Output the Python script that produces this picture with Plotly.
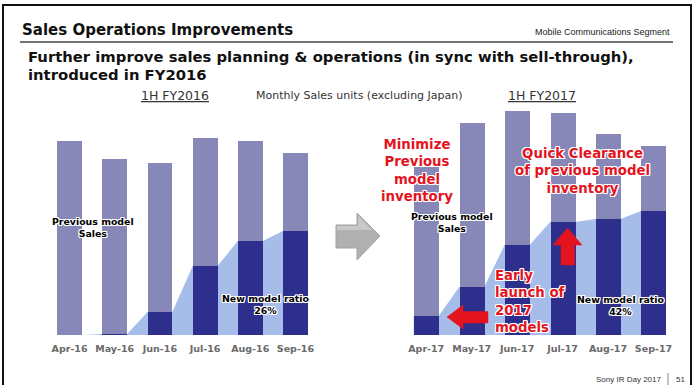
import plotly.graph_objects as go

# ---------------- data ----------------
months_2016 = ["Apr-16", "May-16", "Jun-16", "Jul-16", "Aug-16", "Sep-16"]
months_2017 = ["Apr-17", "May-17", "Jun-17", "Jul-17", "Aug-17", "Sep-17"]
total_2016 = [194, 176, 172, 197, 194, 182]
new_2016 = [0, 1, 23, 69, 94, 104]
total_2017 = [168, 212, 224, 222, 201, 189]
new_2017 = [19, 48, 90, 113, 116, 124]
prev_2016 = [t - n for t, n in zip(total_2016, new_2016)]
prev_2017 = [t - n for t, n in zip(total_2017, new_2017)]

W, H = 696, 385
BAR_W = 0.55
C_PREV = "#8787b8"
C_NEW = "#2e2e8c"
C_AREA = "#a6bdea"
C_RED = "#e3141e"
FONT = "DejaVu Sans"
HALO = "1px 1px 0 #fff, -1px -1px 0 #fff, 1px -1px 0 #fff, -1px 1px 0 #fff, 0 1px 0 #fff, 0 -1px 0 #fff, 1px 0 0 #fff, -1px 0 0 #fff"


def px(x):
    return x / W


def py(y):
    return 1 - y / H


fig = go.Figure()


def add_chart(months, prev, new, xa, ya):
    idx = list(range(len(months)))
    ax, ay = [], []
    for i, v in zip(idx, new):
        ax += [i - BAR_W / 2, i + BAR_W / 2]
        ay += [v, v]
    fig.add_trace(go.Scatter(x=ax, y=ay, mode="lines", line=dict(width=0),
                             fill="tozeroy", fillcolor=C_AREA, xaxis=xa, yaxis=ya,
                             zorder=-1, hoverinfo="skip", showlegend=False))
    fig.add_trace(go.Bar(x=idx, y=new, width=BAR_W, marker=dict(color=C_NEW, line=dict(width=0)),
                         xaxis=xa, yaxis=ya, showlegend=False, zorder=1))
    fig.add_trace(go.Bar(x=idx, y=prev, width=BAR_W, marker=dict(color=C_PREV, line=dict(width=0)),
                         xaxis=xa, yaxis=ya, showlegend=False, zorder=1))


add_chart(months_2016, prev_2016, new_2016, "x", "y")
add_chart(months_2017, prev_2017, new_2017, "x2", "y2")

ydom = [py(335), py(85)]
xcommon = dict(range=[-0.5, 5.5], tickmode="array", tickvals=list(range(6)),
               showgrid=False, zeroline=False, showline=True, linecolor="#dcdcdc", linewidth=1,
               ticks="", ticklabelstandoff=5,
               tickfont=dict(family=FONT, size=9.5, color="#6a6a6a", weight="bold"), fixedrange=True)
ycommon = dict(range=[0, 250], domain=ydom, showgrid=False, zeroline=False,
               showticklabels=False, showline=False, fixedrange=True)

fig.update_layout(
    width=W, height=H, margin=dict(l=0, r=0, t=0, b=0),
    paper_bgcolor="white", plot_bgcolor="rgba(0,0,0,0)",
    barmode="stack", bargap=0, showlegend=False,
    xaxis=dict(domain=[px(47), px(318)], ticktext=months_2016, **xcommon),
    xaxis2=dict(domain=[px(403.5), px(676.2)], ticktext=months_2017, anchor="y2", **xcommon),
    yaxis=dict(anchor="x", **ycommon),
    yaxis2=dict(anchor="x2", **ycommon),
)

shapes = []
# outer frame
shapes.append(dict(type="rect", xref="paper", yref="paper", x0=px(3), x1=px(691), y0=-0.2, y1=py(5),
                   line=dict(color="#111", width=2), fillcolor="rgba(0,0,0,0)"))
# title underline
shapes.append(dict(type="line", xref="paper", yref="paper", x0=px(20), x1=px(673), y0=py(42), y1=py(42),
                   line=dict(color="#444", width=1.3)))
# footer separator
shapes.append(dict(type="line", xref="paper", yref="paper", x0=px(668), x1=px(668), y0=py(373), y1=py(386),
                   line=dict(color="#888", width=1)))


def path(points):
    s = "M " + " L ".join(f"{px(x):.5f},{py(y):.5f}" for x, y in points) + " Z"
    return s


# gray arrow between charts (darker base + lighter upper part for a soft gradient look)
shapes.append(dict(type="path", xref="paper", yref="paper",
                   path=path([(336, 225), (357, 225), (357, 213), (380, 236), (357, 260), (357, 248), (336, 248)]),
                   fillcolor="#b0b0b0", line=dict(color="#a4a4a4", width=1), layer="above"))
shapes.append(dict(type="path", xref="paper", yref="paper",
                   path=path([(337, 226), (358, 226), (358, 215.5), (372, 230), (337, 230)]),
                   fillcolor="#c8c8c8", line=dict(width=0), layer="above"))
# red left arrow
shapes.append(dict(type="path", xref="paper", yref="paper",
                   path=path([(447, 317), (463, 305), (463, 311.5), (488, 311.5), (488, 323), (463, 323), (463, 329)]),
                   fillcolor=C_RED, line=dict(color=C_RED, width=0.5), layer="above"))
# red up arrow
shapes.append(dict(type="path", xref="paper", yref="paper",
                   path=path([(567.5, 228), (582, 245), (574.5, 245), (574.5, 265), (561, 265), (561, 245), (553, 245)]),
                   fillcolor=C_RED, line=dict(color=C_RED, width=0.5), layer="above"))
fig.update_layout(shapes=shapes)

ann = []


def text(x, y, t, size, color="#000", bold=False, xanchor="center", align="center", family=FONT,
         shadow=None, under=False):
    f = dict(family=family, size=size, color=color, weight="bold" if bold else "normal")
    if shadow:
        f["shadow"] = shadow
    if under:
        f["lineposition"] = "under"
    ann.append(dict(x=px(x), y=py(y), xref="paper", yref="paper", text=t, showarrow=False,
                    xanchor=xanchor, yanchor="middle", align=align, font=f))


text(20, 30, "Sales Operations Improvements", 15, "#111", bold=True, xanchor="left", align="left")
text(672, 32, "Mobile Communications Segment", 9, "#222", xanchor="right", family="Liberation Sans")
text(26, 56, "Further improve sales planning &amp; operations (in sync with sell-through),", 14.8, "#111",
     bold=True, xanchor="left", align="left")
text(26, 74, "introduced in FY2016", 14.8, "#111", bold=True, xanchor="left", align="left")

text(175, 96, "1H FY2016", 12.5, "#333", under=True)
text(359, 96, "Monthly Sales units (excluding Japan)", 11, "#333")
text(542, 96, "1H FY2017", 12.5, "#333", under=True)

text(92.5, 227, "Previous model<br>Sales", 9.4, "#000", bold=True, shadow=HALO)
text(452, 222.5, "Previous model<br>Sales", 9.4, "#000", bold=True, shadow=HALO)
text(266, 304.5, "New model ratio<br>26%", 9.4, "#000", bold=True, shadow=HALO)
text(621, 305, "New model ratio<br>42%", 9.4, "#000", bold=True, shadow=HALO)

text(417, 170.5, "Minimize<br>Previous<br>model<br>inventory", 13.3, C_RED, bold=True, shadow=HALO)
text(582.7, 170.5, "Quick Clearance<br>of previous model<br>inventory", 13.3, C_RED, bold=True, shadow=HALO)
text(492.7, 301, "Early<br>launch of<br>2017<br>models", 13.3, C_RED, bold=True, xanchor="left",
     align="left", shadow=HALO)

text(663, 379, "Sony IR Day 2017", 8, "#333", xanchor="right", family="Liberation Sans")
text(674, 379, "51", 8, "#333", xanchor="left", family="Liberation Sans")

fig.update_layout(annotations=ann)
fig.write_html("out.html", config={"displayModeBar": False},
               post_script="document.body.style.margin='0';document.body.style.overflow='hidden';")
